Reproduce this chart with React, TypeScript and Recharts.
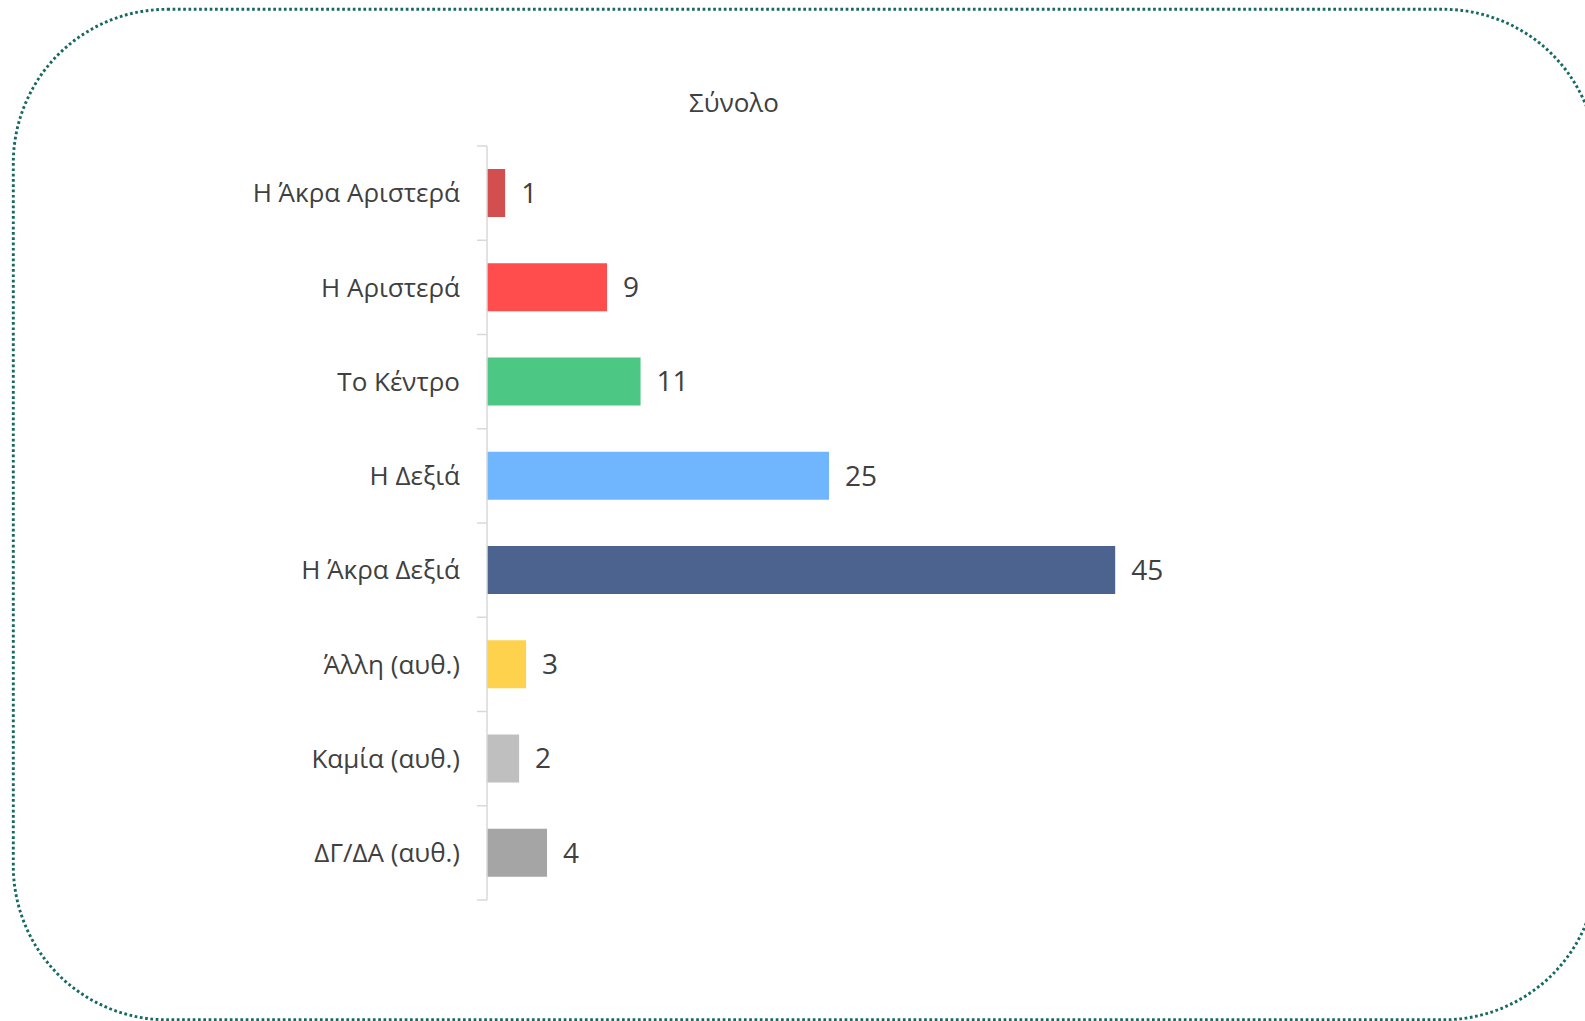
import React from 'react';
import { BarChart, Bar, XAxis, YAxis, Cell, LabelList } from 'recharts';

const categories = [
  'Η Άκρα Αριστερά',
  'Η Αριστερά',
  'Το Κέντρο',
  'Η Δεξιά',
  'Η Άκρα Δεξιά',
  'Άλλη (αυθ.)',
  'Καμία (αυθ.)',
  'ΔΓ/ΔΑ (αυθ.)',
];
const values = [1.3, 8.6, 11.0, 24.5, 45.0, 2.8, 2.3, 4.3];
const colors = ['#D34E4E', '#FF4D4D', '#4CC884', '#70B6FF', '#4B638E', '#FFD24D', '#BFBFBF', '#A5A5A5'];
const title = 'Σύνολο';

const data = categories.map((name, i) => ({ name, value: values[i] }));

const FONT = '"Open Sans", "Noto Sans", sans-serif';
const TEXT = '#404040';
const AXIS = '#D9D9D9';

const CHART_W = 1585;
const CHART_H = 1021;
const MARGIN = { top: 146, bottom: 121, left: 187, right: 400 };
const TICK_SIZE = 10;
const TICK_MARGIN = 17;
const HALF_BAND = (CHART_H - MARGIN.top - MARGIN.bottom) / categories.length / 2;

function CategoryTick(props: any) {
  const { x, y, payload, index } = props;
  const axisX = x + TICK_SIZE + TICK_MARGIN;
  const last = index === categories.length - 1;
  return (
    <g>
      <line x1={axisX - TICK_SIZE} x2={axisX} y1={y - HALF_BAND} y2={y - HALF_BAND} stroke={AXIS} strokeWidth={1.5} />
      {last && (
        <line x1={axisX - TICK_SIZE} x2={axisX} y1={y + HALF_BAND} y2={y + HALF_BAND} stroke={AXIS} strokeWidth={1.5} />
      )}
      <text x={x} y={y} dy="0.355em" textAnchor="end" fill={TEXT} fontSize={26} fontFamily={FONT}>
        {payload.value}
      </text>
    </g>
  );
}

export default function App() {
  return (
    <div style={{ position: 'absolute', left: 0, top: 0, width: 1585, height: 1021, background: '#fff', overflow: 'hidden' }}>
      <svg width={1585} height={1021} style={{ position: 'absolute', left: 0, top: 0 }}>
        <rect
          x={13.3}
          y={9.3}
          width={1584}
          height={1010.5}
          rx={154}
          ry={154}
          fill="none"
          stroke="#176A60"
          strokeWidth={2.9}
          strokeDasharray="2.7 2.6"
        />
        <text x={734} y={112} textAnchor="middle" fontFamily={FONT} fontSize={26} fill={TEXT}>
          {title}
        </text>
      </svg>
      <div style={{ position: 'absolute', left: 0, top: 0 }}>
        <BarChart
          width={CHART_W}
          height={CHART_H}
          data={data}
          layout="vertical"
          margin={MARGIN}
          barSize={48}
        >
          <XAxis type="number" dataKey="value" domain={[0, 50]} hide />
          <YAxis
            type="category"
            dataKey="name"
            orientation="left"
            width={300}
            axisLine={{ stroke: AXIS, strokeWidth: 1.5 }}
            tickLine={false}
            tickSize={TICK_SIZE}
            tickMargin={TICK_MARGIN}
            interval={0}
            tick={<CategoryTick />}
          />
          <Bar dataKey="value" isAnimationActive={false}>
            {data.map((d, i) => (
              <Cell key={d.name} fill={colors[i]} />
            ))}
            <LabelList
              dataKey="value"
              position="right"
              offset={16}
              formatter={(v: number) => String(Math.round(v))}
              style={{ fill: TEXT, fontSize: 28, fontFamily: FONT }}
            />
          </Bar>
        </BarChart>
      </div>
    </div>
  );
}
